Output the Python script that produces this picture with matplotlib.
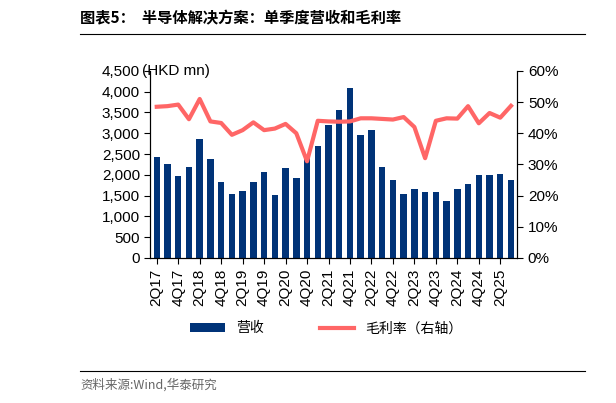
import matplotlib
matplotlib.use("Agg")
import matplotlib.pyplot as plt
from matplotlib.ticker import FuncFormatter, PercentFormatter
import numpy as np

plt.rcParams['font.family'] = ['Liberation Sans', 'Noto Sans CJK SC', 'DejaVu Sans']

quarters = []
for y in range(17, 26):
    for q in range(1, 5):
        quarters.append(f"{q}Q{y}")
quarters = quarters[1:35]
revenue = [2430, 2250, 1960, 2200, 2850, 2380, 1830, 1530, 1620, 1830, 2070, 1520,
           2170, 1920, 2450, 2700, 3200, 3550, 4100, 2950, 3080, 2200, 1880, 1540,
           1650, 1580, 1590, 1380, 1660, 1790, 1990, 2000, 2020, 1880]
margin = [48.5, 48.7, 49.2, 44.5, 51.0, 43.8, 43.3, 39.5, 41.0, 43.5, 41.0, 41.5,
          43.0, 40.0, 31.0, 44.0, 43.8, 43.7, 43.8, 44.8, 44.8, 44.6, 44.4, 45.2,
          42.0, 32.0, 44.0, 44.8, 44.7, 48.7, 43.2, 46.5, 45.0, 48.8]

fig = plt.figure(figsize=(6.16, 4.03), dpi=100)
ax = fig.add_axes([0.244, 0.36, 0.596, 0.464])
x = np.arange(len(quarters))
b = ax.bar(x, revenue, width=0.6, color='#003378', label='营收')
ax.set_ylim(0, 4500)
ax.set_yticks(range(0, 4501, 500))
ax.set_yticklabels([f"{v:,}" for v in range(0, 4501, 500)])
ax.set_xlim(-0.6, len(x) - 0.4)
ax.set_xticks(x[::2])
ax.set_xticklabels(quarters[::2], rotation=90)
ax2 = ax.twinx()
l, = ax2.plot(x, margin, color='#FF6666', lw=3, label='毛利率（右轴）')
ax2.set_ylim(0, 60)
ax2.set_yticks(range(0, 61, 10))
ax2.yaxis.set_major_formatter(PercentFormatter(decimals=0))
for a in (ax, ax2):
    a.spines['top'].set_visible(False)
    a.tick_params(labelsize=11, length=4)
ax.text(-1.4, 4500, "(HKD mn)", fontsize=11, va='center', ha='left')
fig.legend([b, l], ['营收', '毛利率（右轴）'], loc='center', bbox_to_anchor=(0.53, 0.185),
           ncol=2, frameon=False, fontsize=10, handlelength=2.5, columnspacing=4,
           prop={'family': ['Noto Sans CJK SC']})
fig.text(0.13, 0.955, "图表5：  半导体解决方案：单季度营收和毛利率", fontsize=11, weight='bold',
         family=['Noto Sans CJK SC'], va='center')
fig.add_artist(plt.Line2D([0.13, 0.95], [0.915, 0.915], color='black', lw=0.8))
fig.add_artist(plt.Line2D([0.13, 0.95], [0.08, 0.08], color='black', lw=0.8))
fig.text(0.13, 0.045, "资料来源:Wind,华泰研究", fontsize=9, color='#666666',
         family=['Noto Sans CJK SC'], va='center')
fig.savefig("out.png", dpi=100)
